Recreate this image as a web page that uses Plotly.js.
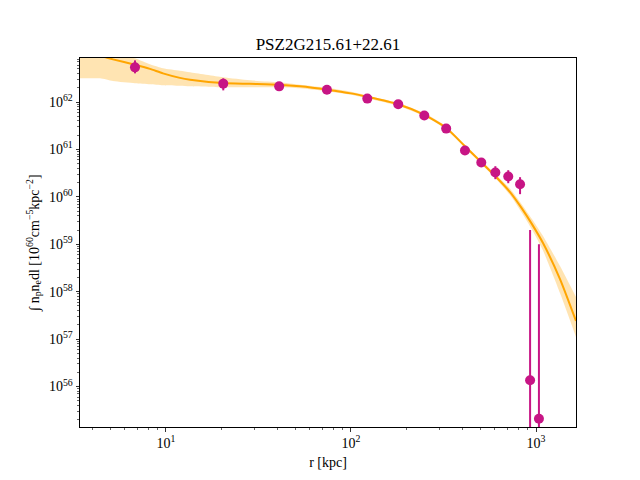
<!DOCTYPE html>
<html>
<head>
<meta charset="utf-8">
<script src="https://cdn.plot.ly/plotly-3.0.1.min.js"></script>
<style>html,body{margin:0;padding:0;background:#fff;}#chart{width:640px;height:480px;}</style>
</head>
<body>
<div id="chart"></div>
<script>
// Observed points: radius (kpc), value, upper and lower bound of error bar
const rPts = [6.8, 20.4, 40.9, 74.1, 122.5, 180, 249, 327, 413, 506, 603, 708, 820, 929, 1037];
const yPts = [5.38e62, 2.44e62, 2.14e62, 1.82e62, 1.18e62, 8.95e61, 5.18e61, 2.75e61, 9.48e60, 5.3e60, 3.27e60, 2.69e60, 1.85e60, 1.36e56, 2.09e55];
const yHi  = [7.55e62, 3.16e62, 2.42e62, 2.06e62, 1.33e62, 1.0e62, 5.85e61, 3.1e61, 1.08e61, 6.0e60, 4.43e60, 3.65e60, 2.6e60, 1.99e59, 1.0e59];
const yLo  = [4.02e62, 1.76e62, 1.89e62, 1.61e62, 1.04e62, 7.9e61, 4.6e61, 2.44e61, 8.3e60, 4.7e60, 2.36e60, 1.94e60, 1.14e60, -1.99e59, -1.0e59];

// Model curve and its band
const rModel   = [3.43, 4.40, 5.17, 6.80, 8.19, 9.63, 11.9, 13.5, 20.3, 28.4, 40.8, 53.0, 74.2, 100, 122, 179.5, 248, 326, 413, 504, 600, 724, 840, 951, 1091, 1348, 1645];
const yModel   = [1.17e63, 9.4e62, 7.93e62, 6.12e62, 5.0e62, 4.02e62, 3.23e62, 2.96e62, 2.51e62, 2.42e62, 2.32e62, 2.14e62, 1.82e62, 1.52e62, 1.29e62, 8.95e61, 5.43e61, 2.86e61, 1.17e61, 5.46e60, 2.79e60, 1.26e60, 5.65e59, 2.66e59, 1.06e59, 1.85e58, 2.42e57];
const yModelLo = [3.16e62, 3.16e62, 2.77e62, 2.48e62, 2.36e62, 2.25e62, 2.19e62, 2.14e62, 2.04e62, 2.04e62, 2.04e62, 1.94e62, 1.68e62, 1.42e62, 1.2e62, 8.32e61, 5.05e61, 2.66e61, 1.09e61, 5.0e60, 2.54e60, 1.09e60, 4.54e59, 2.04e59, 7.37e58, 9.4e57, 1.11e57];
const yModelHi = [1.99e63, 1.56e63, 1.22e63, 8.32e62, 6.22e62, 5.12e62, 4.54e62, 4.22e62, 3.31e62, 2.86e62, 2.6e62, 2.3e62, 1.99e62, 1.64e62, 1.38e62, 9.62e61, 5.84e61, 3.08e61, 1.26e61, 5.93e60, 3.08e60, 1.49e60, 6.85e59, 3.4e59, 1.49e59, 3.48e58, 7.73e57];

// Tick labels
const xTickVals = [10, 100, 1000];
const xTickText = ['10<sup>1</sup>', '10<sup>2</sup>', '10<sup>3</sup>'];
const yTickVals = [1e56, 1e57, 1e58, 1e59, 1e60, 1e61, 1e62];
const yTickText = ['10<sup>56</sup>', '10<sup>57</sup>', '10<sup>58</sup>', '10<sup>59</sup>', '10<sup>60</sup>', '10<sup>61</sup>', '10<sup>62</sup>'];

const titleText = 'PSZ2G215.61+22.61';
const xTitle = 'r [kpc]';
const yTitle = '\u222B n<sub>p</sub>n<sub>e</sub>dl [10<sup>60</sup>cm<sup>\u22125</sup>kpc<sup>\u22122</sup>]';

function minorTicks(e0, e1) {
  const out = [];
  for (let e = e0; e <= e1; e++) for (let m = 2; m <= 9; m++) out.push(m * Math.pow(10, e));
  return out;
}

const FONT = 'Liberation Serif, Times New Roman, serif';
const ORANGE = '#FFA500';
const MAG = '#C71585';

const traces = [
  {x: rModel, y: yModelLo, type: 'scatter', mode: 'lines', line: {width: 0, color: ORANGE, shape: 'spline', smoothing: 0.6}, hoverinfo: 'skip', showlegend: false},
  {x: rModel, y: yModelHi, type: 'scatter', mode: 'lines', fill: 'tonexty', fillcolor: 'rgba(255,165,0,0.3)', line: {width: 0, color: ORANGE, shape: 'spline', smoothing: 0.6}, hoverinfo: 'skip', showlegend: false},
  {x: rModel, y: yModel, type: 'scatter', mode: 'lines', line: {width: 2, color: ORANGE, shape: 'spline', smoothing: 0.6}, showlegend: false},
  {x: rPts, y: yPts, type: 'scatter', mode: 'markers',
   marker: {color: MAG, size: 10},
   error_y: {type: 'data', symmetric: false,
     array: yHi.map((h, i) => h - yPts[i]),
     arrayminus: yLo.map((l, i) => yPts[i] - l),
     color: MAG, thickness: 2, width: 0},
   showlegend: false}
];

const axBase = {
  type: 'log', showgrid: false, zeroline: false,
  showline: true, mirror: true, linecolor: '#000', linewidth: 1,
  ticks: 'outside', ticklen: 3.5, tickwidth: 0.8, tickcolor: '#000',
  tickmode: 'array',
  tickfont: {family: FONT, size: 14, color: '#000'}
};

const layout = {
  width: 640, height: 480,
  paper_bgcolor: '#fff', plot_bgcolor: '#fff',
  margin: {l: 80, r: 64, t: 58, b: 53, pad: 0},
  font: {family: FONT, color: '#000'},
  title: {text: titleText, font: {family: FONT, size: 17, color: '#000'}, xref: 'paper', x: 0.5, xanchor: 'center', yref: 'container', y: 1 - 44 / 480, yanchor: 'middle'},
  xaxis: Object.assign({}, axBase, {
    range: [Math.log10(3.43), Math.log10(1645)],
    tickvals: xTickVals, ticktext: xTickText,
    minor: {tickmode: 'array', tickvals: minorTicks(0, 3), ticks: 'outside', ticklen: 2, tickwidth: 0.6, tickcolor: '#000'},
    title: {text: xTitle, font: {family: FONT, size: 14, color: '#000'}, standoff: 6}
  }),
  yaxis: Object.assign({}, axBase, {
    range: [55.147, 62.928],
    tickvals: yTickVals, ticktext: yTickText,
    minor: {tickmode: 'array', tickvals: minorTicks(55, 62), ticks: 'outside', ticklen: 2, tickwidth: 0.6, tickcolor: '#000'},
    title: {text: yTitle, font: {family: FONT, size: 14, color: '#000'}, standoff: 6}
  })
};

Plotly.newPlot('chart', traces, layout, {staticPlot: true, displayModeBar: false});
</script>
</body>
</html>
